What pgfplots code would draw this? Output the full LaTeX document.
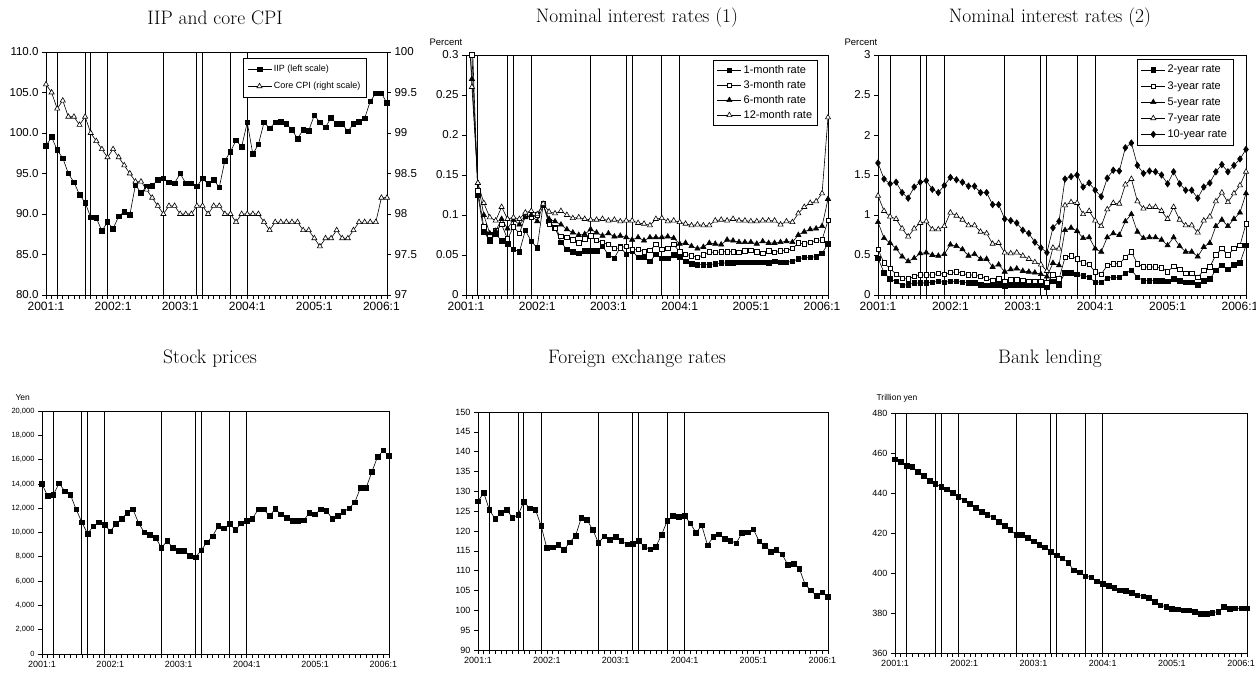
\documentclass[border=0pt]{standalone}
\usepackage{pgfplots}
\usepackage{pgfplotstable}
\pgfplotsset{compat=1.18}
\usepackage{fontspec}
\newfontfamily\tk{Liberation Sans}

% IIP (2000=100) and core CPI, 2001:1 - 2006:2
\pgfplotstableread{
m iip cpi
0 98.4 99.6
1 99.5 99.5
2 97.9 99.3
3 96.9 99.4
4 95.0 99.2
5 93.9 99.2
6 92.4 99.1
7 91.4 99.2
8 89.6 99.0
9 89.5 98.9
10 87.9 98.8
11 89.0 98.7
12 88.2 98.8
13 89.7 98.7
14 90.3 98.6
15 89.9 98.5
16 93.6 98.4
17 92.6 98.4
18 93.4 98.3
19 93.5 98.2
20 94.2 98.1
21 94.4 98.0
22 93.9 98.1
23 93.8 98.1
24 95.0 98.0
25 93.8 98.0
26 93.8 98.0
27 93.4 98.1
28 94.4 98.1
29 93.7 98.0
30 94.2 98.1
31 93.3 98.1
32 96.6 98.0
33 97.7 98.0
34 99.1 97.9
35 98.3 98.0
36 101.3 98.0
37 97.4 98.0
38 98.6 98.0
39 101.3 97.9
40 100.6 97.8
41 101.3 97.9
42 101.4 97.9
43 101.1 97.9
44 100.4 97.9
45 99.3 97.9
46 100.4 97.8
47 100.3 97.8
48 102.2 97.7
49 101.3 97.6
50 100.7 97.7
51 101.9 97.7
52 101.1 97.8
53 101.1 97.7
54 100.2 97.7
55 101.1 97.8
56 101.4 97.9
57 101.8 97.9
58 103.9 97.9
59 104.9 97.9
60 104.9 98.2
61 103.7 98.2
}\tabmacro

% short-term rates, percent
\pgfplotstableread{
m r1 r3 r6 r12
0 0.40 0.40 0.40 0.40
1 0.33 0.30 0.27 0.26
2 0.125 0.13 0.14 0.14
3 0.079 0.085 0.100 0.115
4 0.068 0.075 0.077 0.097
5 0.076 0.080 0.080 0.093
6 0.068 0.088 0.095 0.110
7 0.064 0.070 0.083 0.095
8 0.057 0.085 0.094 0.097
9 0.054 0.077 0.088 0.095
10 0.081 0.098 0.097 0.103
11 0.067 0.097 0.100 0.105
12 0.059 0.100 0.092 0.101
13 0.113 0.114 0.112 0.114
14 0.092 0.088 0.095 0.104
15 0.084 0.083 0.092 0.102
16 0.066 0.073 0.088 0.105
17 0.057 0.072 0.082 0.100
18 0.054 0.069 0.078 0.096
19 0.052 0.065 0.075 0.097
20 0.055 0.070 0.076 0.095
21 0.055 0.074 0.082 0.094
22 0.055 0.068 0.078 0.094
23 0.061 0.066 0.074 0.095
24 0.050 0.063 0.077 0.093
25 0.046 0.058 0.073 0.094
26 0.060 0.059 0.074 0.092
27 0.051 0.061 0.072 0.093
28 0.055 0.057 0.069 0.093
29 0.047 0.057 0.072 0.090
30 0.047 0.054 0.068 0.089
31 0.042 0.056 0.072 0.087
32 0.051 0.063 0.072 0.095
33 0.046 0.057 0.072 0.096
34 0.046 0.058 0.073 0.092
35 0.050 0.063 0.071 0.093
36 0.048 0.054 0.064 0.091
37 0.042 0.051 0.065 0.089
38 0.039 0.049 0.061 0.087
39 0.038 0.047 0.058 0.088
40 0.038 0.050 0.060 0.087
41 0.038 0.054 0.065 0.087
42 0.039 0.053 0.064 0.093
43 0.040 0.054 0.063 0.094
44 0.040 0.054 0.069 0.093
45 0.040 0.054 0.068 0.095
46 0.041 0.053 0.066 0.093
47 0.041 0.055 0.066 0.093
48 0.041 0.056 0.066 0.092
49 0.041 0.054 0.064 0.092
50 0.041 0.052 0.067 0.093
51 0.040 0.055 0.065 0.093
52 0.042 0.053 0.065 0.093
53 0.041 0.055 0.066 0.088
54 0.041 0.056 0.067 0.092
55 0.042 0.058 0.066 0.091
56 0.045 0.065 0.075 0.102
57 0.047 0.064 0.079 0.110
58 0.047 0.066 0.082 0.115
59 0.048 0.068 0.083 0.117
60 0.052 0.069 0.086 0.127
61 0.064 0.093 0.120 0.222
}\tabshort

% long-term rates, percent
\pgfplotstableread{
m y2 y3 y5 y7 y10
0 0.46 0.57 0.91 1.24 1.65
1 0.28 0.40 0.71 1.05 1.45
2 0.20 0.33 0.65 0.98 1.39
3 0.17 0.26 0.58 0.95 1.41
4 0.12 0.21 0.48 0.83 1.28
5 0.13 0.20 0.42 0.73 1.21
6 0.15 0.23 0.46 0.83 1.35
7 0.15 0.25 0.52 0.90 1.41
8 0.15 0.25 0.53 0.92 1.43
9 0.16 0.25 0.50 0.82 1.32
10 0.17 0.27 0.49 0.82 1.28
11 0.16 0.26 0.51 0.86 1.37
12 0.17 0.28 0.63 1.03 1.47
13 0.17 0.29 0.61 0.99 1.44
14 0.16 0.27 0.57 0.94 1.41
15 0.15 0.25 0.49 0.87 1.36
16 0.15 0.25 0.51 0.87 1.36
17 0.13 0.23 0.45 0.79 1.28
18 0.12 0.21 0.45 0.77 1.28
19 0.13 0.18 0.35 0.64 1.13
20 0.13 0.20 0.38 0.65 1.13
21 0.11 0.17 0.29 0.53 0.95
22 0.12 0.19 0.32 0.52 0.93
23 0.13 0.19 0.33 0.53 0.90
24 0.12 0.18 0.30 0.49 0.81
25 0.12 0.17 0.29 0.45 0.77
26 0.12 0.17 0.28 0.41 0.66
27 0.12 0.17 0.26 0.38 0.59
28 0.10 0.15 0.23 0.30 0.53
29 0.17 0.25 0.40 0.59 0.84
30 0.13 0.20 0.37 0.58 0.92
31 0.28 0.47 0.81 1.12 1.45
32 0.28 0.49 0.84 1.16 1.48
33 0.26 0.45 0.80 1.15 1.50
34 0.24 0.40 0.71 1.01 1.35
35 0.22 0.38 0.72 1.05 1.40
36 0.16 0.29 0.58 0.93 1.31
37 0.16 0.26 0.54 0.86 1.23
38 0.21 0.37 0.72 1.07 1.46
39 0.22 0.39 0.77 1.15 1.56
40 0.22 0.39 0.75 1.14 1.55
41 0.27 0.47 0.92 1.38 1.84
42 0.31 0.54 1.01 1.45 1.90
43 0.22 0.39 0.79 1.17 1.62
44 0.18 0.35 0.71 1.08 1.52
45 0.18 0.35 0.72 1.10 1.55
46 0.18 0.35 0.72 1.10 1.54
47 0.18 0.34 0.69 1.05 1.50
48 0.17 0.29 0.62 0.95 1.39
49 0.20 0.36 0.72 1.10 1.54
50 0.18 0.32 0.61 0.94 1.39
51 0.16 0.27 0.54 0.87 1.31
52 0.16 0.27 0.54 0.87 1.31
53 0.13 0.22 0.48 0.78 1.21
54 0.18 0.31 0.60 0.93 1.35
55 0.20 0.35 0.65 0.98 1.40
56 0.31 0.50 0.86 1.17 1.54
57 0.37 0.58 0.94 1.28 1.63
58 0.32 0.50 0.86 1.16 1.54
59 0.38 0.58 0.95 1.27 1.62
60 0.40 0.62 1.03 1.37 1.70
61 0.62 0.89 1.27 1.54 1.82
}\tablong

% stock prices (yen), yen/dollar, bank lending (trillion yen)
\pgfplotstableread{
m stock fx loan
0 13990 127.5 456.9
1 13000 129.6 455.6
2 13100 125.3 453.7
3 14050 123.0 453.2
4 13400 124.6 450.6
5 13100 125.4 448.6
6 11900 123.3 446.2
7 10850 124.1 444.5
8 9900 127.4 443.2
9 10500 125.7 441.9
10 10850 125.4 440.2
11 10650 121.3 438.2
12 10100 115.7 436.3
13 10700 115.9 434.5
14 11150 116.5 432.7
15 11600 115.3 430.7
16 11900 117.2 429.2
17 10750 118.8 427.8
18 10000 123.3 425.7
19 9800 122.8 423.6
20 9550 120.3 421.5
21 8750 117.0 419.1
22 9300 118.7 419.0
23 8750 117.8 417.6
24 8500 118.6 415.8
25 8500 117.5 414.1
26 8100 116.6 412.8
27 7950 116.7 410.5
28 8550 117.6 408.8
29 9200 116.0 407.4
30 9700 115.4 405.1
31 10550 116.0 401.3
32 10350 119.1 400.3
33 10700 122.6 398.4
34 10200 123.9 397.8
35 10750 123.6 395.9
36 10950 123.9 394.7
37 11150 121.9 393.7
38 11900 119.6 392.7
39 11900 121.4 391.4
40 11350 116.4 391.2
41 11950 118.5 390.1
42 11500 119.2 388.9
43 11200 118.1 388.4
44 10950 117.6 387.6
45 10950 116.9 385.7
46 11000 119.5 383.9
47 11600 119.7 383.1
48 11500 120.4 382.2
49 11900 117.4 381.9
50 11800 116.3 381.4
51 11150 114.8 381.4
52 11350 115.2 380.7
53 11700 114.1 379.7
54 12000 111.5 379.6
55 12500 111.7 380.2
56 13700 110.5 380.7
57 13700 106.6 383.0
58 15000 105.0 382.2
59 16250 103.7 382.4
60 16750 104.5 382.3
61 16300 103.4 382.3
}\tabmarket

\pgfplotsset{
  mon/.style={
    scale only axis, anchor=south west,
    xmin=0, xmax=61,
    xtick={0,12,24,36,48,60},
    xticklabels={2001:1,2002:1,2003:1,2004:1,2005:1,2006:1},
    minor xtick={0,...,61},
    tick align=outside,
    major tick length=4pt, minor tick length=4pt,
    xtick pos=left, ytick pos=left,
    extra x ticks={2,7,8,11,21,27,28,33,36},
    extra x tick labels={},
    extra x tick style={grid=major, major tick length=0pt},
    major grid style={black, line width=0.9pt},
    axis line style={line width=0.8pt},
    every tick/.style={black, line width=0.6pt},
    scaled y ticks=false,
    /pgf/number format/assume math mode=true,
    every axis plot/.append style={black, line width=0.6pt},
    legend cell align=left,
    wideleg,
  },
  wideleg/.style={
    legend image code/.code={
      \draw[mark repeat=2, mark phase=2] plot coordinates {(0pt,0pt) (12pt,0pt) (24pt,0pt)};}
  },
  top/.style={
    xticklabel style={font=\tk\fontsize{12}{13}\selectfont},
    yticklabel style={font=\tk\fontsize{11.5}{13}\selectfont},
  },
  bot/.style={
    xticklabel style={font=\tk\fontsize{9}{11}\selectfont},
    yticklabel style={font=\tk\fontsize{9}{11}\selectfont},
  },
  sq/.style={mark=square*, mark size=2.3pt},
  osq/.style={mark=square*, mark size=2.2pt, mark options={fill=white}},
  tri/.style={mark=triangle*, mark size=3pt},
  otri/.style={mark=triangle*, mark size=3pt, mark options={fill=white}},
  dia/.style={mark=diamond*, mark size=3.2pt},
}

\begin{document}
\begin{tikzpicture}[x=1pt,y=1pt]
\path[use as bounding box] (0,0) rectangle (1256,679);

% titles
\node[font=\fontsize{19.5}{22}\selectfont] at (215,661) {IIP and core CPI};
\node[font=\fontsize{19.5}{22}\selectfont] at (637,661) {Nominal interest rates (1)};
\node[font=\fontsize{19.5}{22}\selectfont] at (1050,661) {Nominal interest rates (2)};
\node[font=\fontsize{19.5}{22}\selectfont] at (210,320) {Stock prices};
\node[font=\fontsize{19.5}{22}\selectfont] at (637,320) {Foreign exchange rates};
\node[font=\fontsize{19.5}{22}\selectfont] at (1050,320) {Bank lending};
% unit labels
\node[anchor=west, font=\tk\fontsize{9.5}{11}\selectfont] at (426,637) {Percent};
\node[anchor=west, font=\tk\fontsize{9.5}{11}\selectfont] at (841,637) {Percent};
\node[anchor=west, font=\tk\fontsize{8.5}{10}\selectfont] at (12,281) {Yen};
\node[anchor=west, font=\tk\fontsize{8.5}{10}\selectfont] at (873,281) {Trillion yen};

% ---- IIP and core CPI
\begin{axis}[mon, top, at={(46pt,384pt)}, width=341pt, height=243pt,
  ymin=80, ymax=110, ytick={80,85,...,110},
  yticklabel style={/pgf/number format/.cd, fixed, fixed zerofill, precision=1}]
\addplot[sq] table[x=m, y=iip] {\tabmacro};
\end{axis}
\begin{axis}[scale only axis, anchor=south west, at={(46pt,384pt)}, width=341pt, height=243pt,
  xmin=0, xmax=61, axis x line=none, axis y line*=right,
  ymin=97, ymax=100, ytick={97,97.5,...,100},
  tick align=outside, major tick length=4pt,
  /pgf/number format/assume math mode=true,
  axis line style={line width=0.8pt}, every tick/.style={black, line width=0.6pt},
  yticklabel style={font=\tk\fontsize{11.5}{13}\selectfont},
  every axis plot/.append style={black, line width=0.6pt},
  legend cell align=left, wideleg,
  legend style={at={(0.94,0.975)}, anchor=north east, draw=black,
    font=\tk\fontsize{9}{10}\selectfont, row sep=5pt, inner xsep=4pt, inner ysep=5pt}]
\addlegendimage{sq}
\addlegendentry{IIP (left scale)}
\addplot[otri] table[x=m, y=cpi] {\tabmacro};
\addlegendentry{Core CPI (right scale)}
\end{axis}

% ---- short-term rates
\begin{axis}[mon, top, at={(466pt,384pt)}, width=362pt, height=240pt,
  ymin=0, ymax=0.3, ytick={0,0.05,...,0.3},
  yticklabel style={/pgf/number format/.cd, fixed, precision=2},
  legend style={at={(0.972,0.98)}, anchor=north east, draw=black,
    font=\tk\fontsize{11}{12}\selectfont, row sep=1.5pt, inner sep=3.5pt}]
\addplot[sq] table[x=m, y=r1] {\tabshort};
\addlegendentry{1-month rate}
\addplot[osq] table[x=m, y=r3] {\tabshort};
\addlegendentry{3-month rate}
\addplot[tri] table[x=m, y=r6] {\tabshort};
\addlegendentry{6-month rate}
\addplot[otri] table[x=m, y=r12] {\tabshort};
\addlegendentry{12-month rate}
\end{axis}

% ---- long-term rates
\begin{axis}[mon, top, at={(878pt,384pt)}, width=368pt, height=240pt,
  ymin=0, ymax=3, ytick={0,0.5,...,3},
  yticklabel style={/pgf/number format/.cd, fixed, precision=1},
  legend style={at={(0.965,0.983)}, anchor=north east, draw=black,
    font=\tk\fontsize{11}{12}\selectfont, row sep=3pt, inner sep=4pt}]
\addplot[sq] table[x=m, y=y2] {\tablong};
\addlegendentry{2-year rate}
\addplot[osq] table[x=m, y=y3] {\tablong};
\addlegendentry{3-year rate}
\addplot[tri] table[x=m, y=y5] {\tablong};
\addlegendentry{5-year rate}
\addplot[otri] table[x=m, y=y7] {\tablong};
\addlegendentry{7-year rate}
\addplot[dia] table[x=m, y=y10] {\tablong};
\addlegendentry{10-year rate}
\end{axis}

% ---- stock prices
\begin{axis}[mon, bot, at={(42pt,25pt)}, width=347pt, height=243pt,
  ymin=0, ymax=20000, ytick={0,2000,...,20000},
  yticklabel style={font=\tk\fontsize{7.5}{9}\selectfont, /pgf/number format/.cd, 1000 sep={,}}]
\addplot[sq] table[x=m, y=stock] {\tabmarket};
\end{axis}

% ---- foreign exchange
\begin{axis}[mon, bot, at={(478pt,29pt)}, width=350pt, height=238pt,
  ymin=90, ymax=150, ytick={90,95,...,150}]
\addplot[sq] table[x=m, y=fx] {\tabmarket};
\end{axis}

% ---- bank lending
\begin{axis}[mon, bot, at={(895pt,26pt)}, width=352pt, height=240pt,
  ymin=360, ymax=480, ytick={360,380,...,480}]
\addplot[sq] table[x=m, y=loan] {\tabmarket};
\end{axis}
\end{tikzpicture}
\end{document}
